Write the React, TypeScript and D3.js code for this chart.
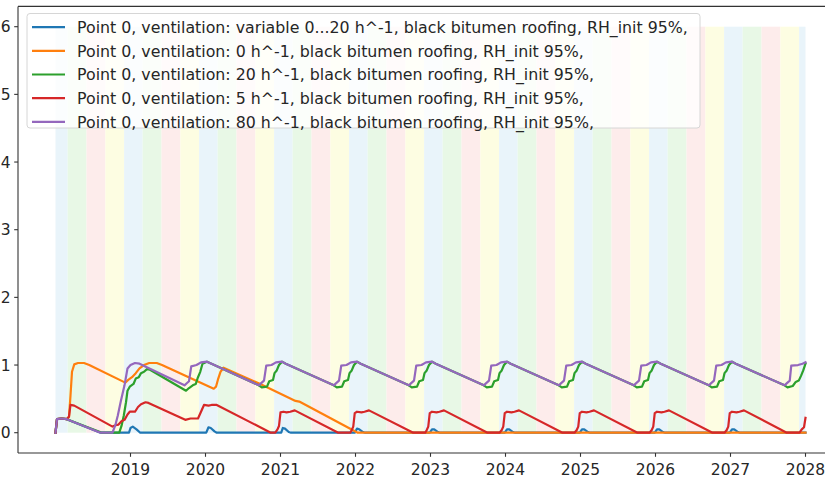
import React from 'react';
import * as d3 from 'd3';

const W = 825;
const H = 479;

const legendLabels = [
  'Point 0, ventilation: variable 0...20 h^-1, black bitumen roofing, RH_init 95%,',
  'Point 0, ventilation: 0 h^-1, black bitumen roofing, RH_init 95%,',
  'Point 0, ventilation: 20 h^-1, black bitumen roofing, RH_init 95%,',
  'Point 0, ventilation: 5 h^-1, black bitumen roofing, RH_init 95%,',
  'Point 0, ventilation: 80 h^-1, black bitumen roofing, RH_init 95%,',
];
const seriesColors = ['#1f77b4', '#ff7f0e', '#2ca02c', '#d62728', '#9467bd'];
const xTickYears = [2019, 2020, 2021, 2022, 2023, 2024, 2025, 2026, 2027, 2028];
const yTickValues = [0, 1, 2, 3, 4, 5, 6];
const stripeYears = [2018, 2019, 2020, 2021, 2022, 2023, 2024, 2025, 2026, 2027];
const seasonColors = { winter: '#e9f4fa', spring: '#e8f8e6', summer: '#fdeceb', autumn: '#fdfde2' };

// [decimal year, value]
const seriesVariable = [
  [2018.0, 0], [2018.02, 0.2], [2018.08, 0.21], [2018.15, 0.2], [2018.6, 0], [2018.98, 0], [2019.0, 0.07], [2019.03, 0.09], [2019.08, 0.05], [2019.13, 0],
  [2020.01, 0], [2020.04, 0.08], [2020.07, 0.07], [2020.12, 0.02], [2020.15, 0],
  [2021.01, 0], [2021.03, 0.07], [2021.06, 0.06], [2021.11, 0.01], [2021.14, 0],
  [2021.99, 0], [2022.02, 0.06], [2022.05, 0.05], [2022.1, 0.01], [2022.13, 0],
  [2022.99, 0], [2023.02, 0.05], [2023.05, 0.05], [2023.1, 0.01], [2023.13, 0],
  [2023.99, 0], [2024.02, 0.05], [2024.05, 0.05], [2024.1, 0.01], [2024.13, 0],
  [2024.99, 0], [2025.02, 0.05], [2025.05, 0.05], [2025.1, 0.01], [2025.13, 0],
  [2025.99, 0], [2026.02, 0.05], [2026.05, 0.05], [2026.1, 0.01], [2026.13, 0],
  [2026.99, 0], [2027.02, 0.05], [2027.05, 0.05], [2027.1, 0.01], [2027.13, 0],
  [2028.0, 0],
];

const series0 = [
  [2018.0, 0], [2018.02, 0.2], [2018.08, 0.21], [2018.15, 0.2], [2018.18, 0.23], [2018.2, 0.55], [2018.22, 0.9], [2018.25, 1.01],
  [2018.3, 1.03], [2018.38, 1.03], [2018.45, 1.0], [2018.93, 0.74], [2018.97, 0.78], [2019.02, 0.82], [2019.07, 0.88], [2019.12, 0.95],
  [2019.18, 1.0], [2019.25, 1.03], [2019.35, 1.03], [2019.42, 1.0], [2020.11, 0.65], [2020.14, 0.68], [2020.17, 0.8], [2020.2, 0.9],
  [2020.24, 0.96], [2020.73, 0.72], [2021.2, 0.47], [2021.25, 0.46], [2022.03, 0], [2028.0, 0],
];

const series20 = [
  [2018.0, 0], [2018.02, 0.2], [2018.08, 0.21], [2018.15, 0.2], [2018.62, 0], [2018.85, 0], [2018.88, 0.1], [2018.91, 0.25], [2018.94, 0.45],
  [2018.96, 0.62], [2018.99, 0.68], [2019.04, 0.72], [2019.07, 0.8], [2019.11, 0.82], [2019.14, 0.88], [2019.18, 0.9], [2019.22, 0.94], [2019.26, 0.93],
  [2019.74, 0.62], [2019.78, 0.66], [2019.83, 0.7], [2019.87, 0.72], [2019.9, 0.82], [2019.93, 0.9], [2019.96, 1.02], [2020.02, 1.05], [2020.08, 1.02],
  [2020.71, 0.7], [2020.75, 0.67], [2020.82, 0.68], [2020.85, 0.76], [2020.9, 0.78], [2020.92, 0.88], [2020.95, 0.92], [2020.98, 1.0], [2021.02, 1.05], [2021.07, 1.02],
  [2021.71, 0.7], [2021.75, 0.67], [2021.82, 0.68], [2021.85, 0.76], [2021.9, 0.78], [2021.92, 0.88], [2021.95, 0.92], [2021.98, 1.0], [2022.02, 1.05], [2022.07, 1.02],
  [2022.71, 0.7], [2022.75, 0.67], [2022.82, 0.68], [2022.85, 0.76], [2022.9, 0.78], [2022.92, 0.88], [2022.95, 0.92], [2022.98, 1.0], [2023.02, 1.05], [2023.07, 1.02],
  [2023.71, 0.7], [2023.75, 0.67], [2023.82, 0.68], [2023.85, 0.76], [2023.9, 0.78], [2023.92, 0.88], [2023.95, 0.92], [2023.98, 1.0], [2024.02, 1.05], [2024.07, 1.02],
  [2024.71, 0.7], [2024.75, 0.67], [2024.82, 0.68], [2024.85, 0.76], [2024.9, 0.78], [2024.92, 0.88], [2024.95, 0.92], [2024.98, 1.0], [2025.02, 1.05], [2025.07, 1.02],
  [2025.71, 0.7], [2025.75, 0.67], [2025.82, 0.68], [2025.85, 0.76], [2025.9, 0.78], [2025.92, 0.88], [2025.95, 0.92], [2025.98, 1.0], [2026.02, 1.05], [2026.07, 1.02],
  [2026.71, 0.7], [2026.75, 0.67], [2026.82, 0.68], [2026.85, 0.76], [2026.9, 0.78], [2026.92, 0.88], [2026.95, 0.92], [2026.98, 1.0], [2027.02, 1.05], [2027.07, 1.02],
  [2027.72, 0.7], [2027.76, 0.67], [2027.83, 0.69], [2027.87, 0.75], [2027.91, 0.77], [2027.94, 0.84], [2027.97, 0.92], [2028.0, 1.02],
];

const series5 = [
  [2018.0, 0], [2018.02, 0.2], [2018.08, 0.21], [2018.15, 0.2], [2018.18, 0.24], [2018.2, 0.41], [2018.25, 0.4], [2018.76, 0.09], [2018.8, 0.11],
  [2018.84, 0.12], [2018.88, 0.17], [2018.92, 0.19], [2018.96, 0.27], [2018.99, 0.31], [2019.06, 0.31], [2019.1, 0.38], [2019.14, 0.42], [2019.2, 0.45], [2019.24, 0.44],
  [2019.73, 0.19], [2019.8, 0.21], [2019.9, 0.21], [2019.94, 0.31], [2019.98, 0.41], [2020.04, 0.4], [2020.08, 0.41], [2020.15, 0.41],
  [2020.87, 0], [2020.93, 0], [2020.96, 0.05], [2020.98, 0.1], [2021.0, 0.3], [2021.04, 0.31], [2021.08, 0.3], [2021.13, 0.31], [2021.19, 0.33],
  [2021.77, 0], [2021.93, 0], [2021.95, 0.04], [2021.97, 0.09], [2021.99, 0.29], [2022.02, 0.31], [2022.08, 0.3], [2022.12, 0.31], [2022.18, 0.33],
  [2022.77, 0], [2022.93, 0], [2022.95, 0.04], [2022.97, 0.09], [2022.99, 0.29], [2023.02, 0.31], [2023.08, 0.3], [2023.12, 0.31], [2023.18, 0.33],
  [2023.76, 0], [2023.92, 0], [2023.95, 0.04], [2023.97, 0.09], [2023.99, 0.29], [2024.02, 0.31], [2024.08, 0.3], [2024.12, 0.31], [2024.18, 0.33],
  [2024.76, 0], [2024.92, 0], [2024.95, 0.04], [2024.97, 0.09], [2024.99, 0.29], [2025.02, 0.31], [2025.08, 0.3], [2025.12, 0.31], [2025.18, 0.33],
  [2025.76, 0], [2025.92, 0], [2025.95, 0.04], [2025.97, 0.09], [2025.99, 0.29], [2026.02, 0.31], [2026.08, 0.3], [2026.12, 0.31], [2026.18, 0.33],
  [2026.76, 0], [2026.92, 0], [2026.95, 0.04], [2026.97, 0.09], [2026.99, 0.29], [2027.02, 0.31], [2027.08, 0.3], [2027.12, 0.31], [2027.18, 0.33],
  [2027.75, 0], [2027.92, 0], [2027.95, 0.05], [2027.98, 0.08], [2028.0, 0.22],
];

const series80 = [
  [2018.0, 0], [2018.02, 0.2], [2018.08, 0.21], [2018.15, 0.2], [2018.6, 0], [2018.76, 0], [2018.8, 0.12], [2018.83, 0.25], [2018.87, 0.46],
  [2018.92, 0.7], [2018.96, 0.95], [2019.0, 1.0], [2019.06, 1.03], [2019.12, 1.02],
  [2019.72, 0.7], [2019.75, 0.73], [2019.78, 0.76], [2019.81, 0.98], [2019.88, 1.0], [2019.94, 1.04], [2020.02, 1.05], [2020.08, 1.02],
  [2020.71, 0.7], [2020.75, 0.74], [2020.78, 0.77], [2020.81, 0.99], [2020.88, 1.0], [2020.94, 1.04], [2021.02, 1.05], [2021.07, 1.02],
  [2021.71, 0.7], [2021.75, 0.74], [2021.78, 0.77], [2021.81, 0.99], [2021.88, 1.0], [2021.94, 1.04], [2022.02, 1.05], [2022.07, 1.02],
  [2022.71, 0.7], [2022.75, 0.74], [2022.78, 0.77], [2022.81, 0.99], [2022.88, 1.0], [2022.94, 1.04], [2023.02, 1.05], [2023.07, 1.02],
  [2023.71, 0.7], [2023.75, 0.74], [2023.78, 0.77], [2023.81, 0.99], [2023.88, 1.0], [2023.94, 1.04], [2024.02, 1.05], [2024.07, 1.02],
  [2024.71, 0.7], [2024.75, 0.74], [2024.78, 0.77], [2024.81, 0.99], [2024.88, 1.0], [2024.94, 1.04], [2025.02, 1.05], [2025.07, 1.02],
  [2025.71, 0.7], [2025.75, 0.74], [2025.78, 0.77], [2025.81, 0.99], [2025.88, 1.0], [2025.94, 1.04], [2026.02, 1.05], [2026.07, 1.02],
  [2026.71, 0.7], [2026.75, 0.74], [2026.78, 0.77], [2026.81, 0.99], [2026.88, 1.0], [2026.94, 1.04], [2027.02, 1.05], [2027.07, 1.02],
  [2027.72, 0.7], [2027.76, 0.74], [2027.79, 0.77], [2027.81, 0.99], [2027.9, 1.0], [2027.96, 1.02], [2028.0, 1.04],
];

const allSeries = [seriesVariable, series0, series20, series5, series80];

// season boundaries as fractions of a year (1 Mar, 1 Jun, 1 Sep, 1 Dec)
const MAR = 59 / 365;
const JUN = 151 / 365;
const SEP = 243 / 365;
const DEC = 334 / 365;

const FONT = 'DejaVu Sans, sans-serif';

export default function App() {
  const x = d3.scaleLinear().domain([2017.5, 2028.5]).range([18, 843]);
  const y = d3.scaleLinear().domain([-0.3, 6.3]).range([453, 6.4]);
  const line = d3
    .line<number[]>()
    .x((d) => x(d[0]))
    .y((d) => y(d[1]));

  const stripes: { a: number; b: number; c: string }[] = [];
  stripeYears.forEach((Y) => {
    stripes.push({ a: Y === stripeYears[0] ? Y : Y - 1 + DEC, b: Y + MAR, c: seasonColors.winter });
    stripes.push({ a: Y + MAR, b: Y + JUN, c: seasonColors.spring });
    stripes.push({ a: Y + JUN, b: Y + SEP, c: seasonColors.summer });
    stripes.push({ a: Y + SEP, b: Y + DEC, c: seasonColors.autumn });
  });
  const lastY = stripeYears[stripeYears.length - 1];
  stripes.push({ a: lastY + DEC, b: lastY + 1, c: seasonColors.winter });

  const left = x(2017.5);
  const bottom = y(-0.3);
  const top = y(6.3);

  const legX = 27;
  const legY = 13.5;
  const legW = 673;
  const legH = 114.5;
  const rowPitch = 23.65;
  const row0 = 27.2;

  return (
    <svg
      width={W}
      height={H}
      style={{ position: 'absolute', left: 0, top: 0, background: '#fff' }}
      fontFamily={FONT}
    >
      <rect x={0} y={0} width={W} height={H} fill="#fff" />
      {stripes.map((s, i) => (
        <rect
          key={i}
          x={x(s.a)}
          y={y(6)}
          width={x(s.b) - x(s.a)}
          height={y(0) - y(6)}
          fill={s.c}
        />
      ))}
      {allSeries.map((s, i) => (
        <path
          key={i}
          d={line(s) || ''}
          fill="none"
          stroke={seriesColors[i]}
          strokeWidth={2.2}
          strokeLinejoin="round"
          strokeLinecap="square"
        />
      ))}
      {/* spines */}
      <line x1={left} x2={left} y1={top} y2={bottom} stroke="#333" strokeWidth={1.1} />
      <line x1={left} x2={W} y1={bottom} y2={bottom} stroke="#333" strokeWidth={1.1} />
      <line x1={left} x2={W} y1={top} y2={top} stroke="#333" strokeWidth={1.1} />
      {/* y ticks */}
      {yTickValues.map((v) => (
        <g key={v}>
          <line x1={left - 3.8} x2={left} y1={y(v)} y2={y(v)} stroke="#333" strokeWidth={1.1} />
          <text x={left - 7.3} y={y(v) + 5.6} textAnchor="end" fontSize={15.5} fill="#262626">
            {v}
          </text>
        </g>
      ))}
      {/* x ticks */}
      {xTickYears.map((t) => (
        <g key={t}>
          <line x1={x(t)} x2={x(t)} y1={bottom} y2={bottom + 3.8} stroke="#333" strokeWidth={1.1} />
          <text x={x(t)} y={bottom + 21.5} textAnchor="middle" fontSize={15.5} fill="#262626">
            {t}
          </text>
        </g>
      ))}
      {/* legend */}
      <rect
        x={legX}
        y={legY}
        width={legW}
        height={legH}
        rx={3}
        fill="#fff"
        fillOpacity={0.8}
        stroke="#d6d6d6"
        strokeWidth={1}
      />
      {legendLabels.map((lab, i) => {
        const cy = row0 + i * rowPitch;
        return (
          <g key={i}>
            <line x1={32} x2={65} y1={cy} y2={cy} stroke={seriesColors[i]} strokeWidth={2.2} />
            <text x={77} y={cy + 5.7} fontSize={15.8} fill="#262626">
              {lab}
            </text>
          </g>
        );
      })}
    </svg>
  );
}
